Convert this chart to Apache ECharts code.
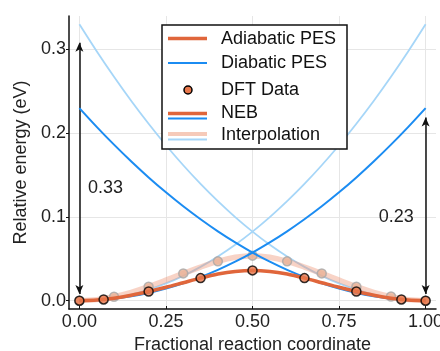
<!DOCTYPE html>
<html>
<head>
<meta charset="utf-8">
<script src="https://cdn.jsdelivr.net/npm/echarts@6/dist/echarts.min.js"></script>
<style>
  html, body { margin: 0; padding: 0; background: #fff; }
  #chart { width: 440px; height: 351px; }
</style>
</head>
<body>
<div id="chart"></div>
<script>
// Sample positions along the reaction coordinate for the smooth curves
const curveX = [0, 0.05, 0.1, 0.15, 0.2, 0.25, 0.3, 0.35, 0.4, 0.45, 0.5,
                0.55, 0.6, 0.65, 0.7, 0.75, 0.8, 0.85, 0.9, 0.95, 1];

// NEB diabatic surfaces (reactant- and product-centred)
const nebDiabaticA = [0, 0.0006, 0.0023, 0.0052, 0.0092, 0.0144, 0.0207, 0.0282, 0.0368, 0.0466, 0.0575,
                      0.0696, 0.0828, 0.0972, 0.1127, 0.1294, 0.1472, 0.1662, 0.1863, 0.2076, 0.23];
const nebDiabaticB = [0.23, 0.2076, 0.1863, 0.1662, 0.1472, 0.1294, 0.1127, 0.0972, 0.0828, 0.0696, 0.0575,
                      0.0466, 0.0368, 0.0282, 0.0207, 0.0144, 0.0092, 0.0052, 0.0023, 0.0006, 0];

// Interpolation diabatic surfaces
const interpDiabaticA = [0, 0.0008, 0.0033, 0.0074, 0.0132, 0.0206, 0.0297, 0.0404, 0.0528, 0.0668, 0.0825,
                         0.0998, 0.1188, 0.1394, 0.1617, 0.1856, 0.2112, 0.2384, 0.2673, 0.2978, 0.33];
const interpDiabaticB = [0.33, 0.2978, 0.2673, 0.2384, 0.2112, 0.1856, 0.1617, 0.1394, 0.1188, 0.0998, 0.0825,
                         0.0668, 0.0528, 0.0404, 0.0297, 0.0206, 0.0132, 0.0074, 0.0033, 0.0008, 0];

// Adiabatic surfaces
const nebAdiabatic = [0, 0.0008, 0.003, 0.0065, 0.011, 0.016, 0.0215, 0.027, 0.0318, 0.035, 0.0362,
                      0.035, 0.0318, 0.027, 0.0215, 0.016, 0.011, 0.0065, 0.003, 0.0008, 0];
const interpAdiabatic = [0, 0.0013, 0.0048, 0.01, 0.0167, 0.0245, 0.0326, 0.0402, 0.047, 0.0518, 0.0538,
                         0.0518, 0.047, 0.0402, 0.0326, 0.0245, 0.0167, 0.01, 0.0048, 0.0013, 0];

// DFT single points: NEB images
const nebPointX = [0, 0.07, 0.2, 0.35, 0.5, 0.65, 0.8, 0.93, 1];
const nebPointE = [0, 0.0015, 0.011, 0.027, 0.0362, 0.027, 0.011, 0.0015, 0];

// DFT single points: linear interpolation images
const interpPointX = [0, 0.1, 0.2, 0.3, 0.4, 0.5, 0.6, 0.7, 0.8, 0.9, 1];
const interpPointE = [0, 0.0048, 0.0167, 0.0326, 0.047, 0.0538, 0.047, 0.0326, 0.0167, 0.005, 0];

// Diabatic energy gaps marked with arrows
const gapX = [0, 1];
const gapValues = [0.33, 0.23];
const gapArrowBottom = [0.008, 0.008];
const gapArrowTop = [0.308, 0.2186];

// Tick labels
const xTicks = [0, 0.25, 0.5, 0.75, 1];
const yTicks = [0, 0.1, 0.2, 0.3];

const FONT = '"Liberation Sans", Arial, Helvetica, sans-serif';
const FS = 18;
const C_ORANGE = '#e0663b';
const C_BLUE = '#1b8cf2';
const C_LIGHTBLUE = '#a6d6f8';
const C_PALEORANGE = 'rgba(238,150,120,0.42)';

const pair = (xs, ys) => xs.map((x, i) => [x, ys[i]]);

function curve(ys, color, width, z) {
  return {
    type: 'line', data: pair(curveX, ys), smooth: 0.3, showSymbol: false,
    lineStyle: { color, width }, z, silent: true
  };
}

const chart = echarts.init(document.getElementById('chart'), null, { renderer: 'canvas' });

const axisText = { color: '#222', fontSize: FS, fontFamily: FONT };

// Legend drawn as plain graphic elements (two-line swatches for NEB / Interpolation)
const LX = 162, LY = 25, LW = 185, LH = 124;
const sx1 = 168, sx2 = 207, tx = 221;
function swatch(y, color, width) {
  return { type: 'line', shape: { x1: sx1, y1: y, x2: sx2, y2: y },
           style: { stroke: color, lineWidth: width }, z: 101 };
}
function legendText(y, text) {
  return { type: 'text', x: tx, y,
           style: { text, fill: '#111', font: FS + 'px ' + FONT, verticalAlign: 'middle' }, z: 101 };
}
const legend = [
  { type: 'rect', shape: { x: LX, y: LY, width: LW, height: LH },
    style: { fill: '#fff', stroke: '#111', lineWidth: 1.5 }, z: 100 },
  swatch(38.5, C_ORANGE, 3.5), legendText(39, 'Adiabatic PES'),
  swatch(63, C_BLUE, 2), legendText(63, 'Diabatic PES'),
  { type: 'circle', shape: { cx: 188, cy: 90, r: 4 },
    style: { fill: '#e9784c', stroke: '#000', lineWidth: 1.5 }, z: 101 },
  legendText(90, 'DFT Data'),
  swatch(113.5, C_ORANGE, 3.5), swatch(118.5, C_BLUE, 2), legendText(113, 'NEB'),
  swatch(134, '#f6cab9', 4), swatch(139.5, C_LIGHTBLUE, 2), legendText(135, 'Interpolation')
];

const option = {
  animation: false,
  backgroundColor: '#fff',
  grid: { left: 69, right: 4, top: 16, bottom: 42, outerBoundsMode: 'none' },
  xAxis: {
    type: 'value', min: -0.03, max: 1.03,
    name: 'Fractional reaction coordinate', nameLocation: 'middle', nameGap: 25,
    nameTextStyle: axisText,
    axisLine: { onZero: false, lineStyle: { color: '#111', width: 1.5 } },
    axisTick: { customValues: xTicks, inside: true, length: 3, lineStyle: { color: '#111' } },
    axisLabel: { customValues: xTicks, formatter: v => v.toFixed(2), margin: 4, ...axisText },
    splitLine: { show: true, lineStyle: { color: '#e6e6e6', width: 1 } }
  },
  yAxis: {
    type: 'value', min: -0.0099, max: 0.3399,
    name: 'Relative energy (eV)', nameLocation: 'middle', nameGap: 33,
    nameTextStyle: axisText,
    axisLine: { show: true, onZero: false, lineStyle: { color: '#111', width: 1.5 } },
    axisTick: { show: true, customValues: yTicks, length: 3, lineStyle: { color: '#111' } },
    axisLabel: { customValues: yTicks, formatter: v => v.toFixed(1), margin: 3, ...axisText },
    splitLine: { show: true, lineStyle: { color: '#e6e6e6', width: 1 } }
  },
  graphic: legend,
  series: [
    curve(interpDiabaticA, C_LIGHTBLUE, 1.8, 2),
    curve(interpDiabaticB, C_LIGHTBLUE, 1.8, 2),
    curve(interpAdiabatic, C_PALEORANGE, 5.5, 3),
    {
      type: 'scatter', data: pair(interpPointX, interpPointE), symbolSize: 9, z: 4, silent: true,
      itemStyle: { color: '#e8b296', borderColor: '#a8a8a8', borderWidth: 1.5 }
    },
    curve(nebDiabaticA, C_BLUE, 2, 5),
    curve(nebDiabaticB, C_BLUE, 2, 5),
    curve(nebAdiabatic, C_ORANGE, 3.5, 6),
    {
      type: 'scatter', data: pair(nebPointX, nebPointE), symbolSize: 9, z: 7, silent: true,
      itemStyle: { color: '#e9784c', borderColor: '#000', borderWidth: 1.5 }
    },
    {
      // gap arrows and their labels
      type: 'line', data: [], z: 8, silent: true,
      markLine: {
        silent: true, animation: false,
        symbol: ['arrow', 'arrow'], symbolSize: [6, 9],
        lineStyle: { color: '#111', width: 1.5, type: 'solid' },
        label: { show: false },
        data: gapX.map((x, i) => [
          { coord: [x, gapArrowBottom[i]] },
          { coord: [x, gapArrowTop[i]] }
        ])
      },
      markPoint: {
        silent: true, animation: false, symbol: 'circle', symbolSize: 0,
        data: [
          { coord: [0.025, 0.135], value: gapValues[0],
            label: { position: 'right', distance: 0 } },
          { coord: [0.966, 0.1], value: gapValues[1],
            label: { position: 'left', distance: 0 } }
        ],
        label: { show: true, formatter: p => p.value.toFixed(2), ...axisText }
      }
    }
  ]
};

chart.setOption(option);
</script>
</body>
</html>
